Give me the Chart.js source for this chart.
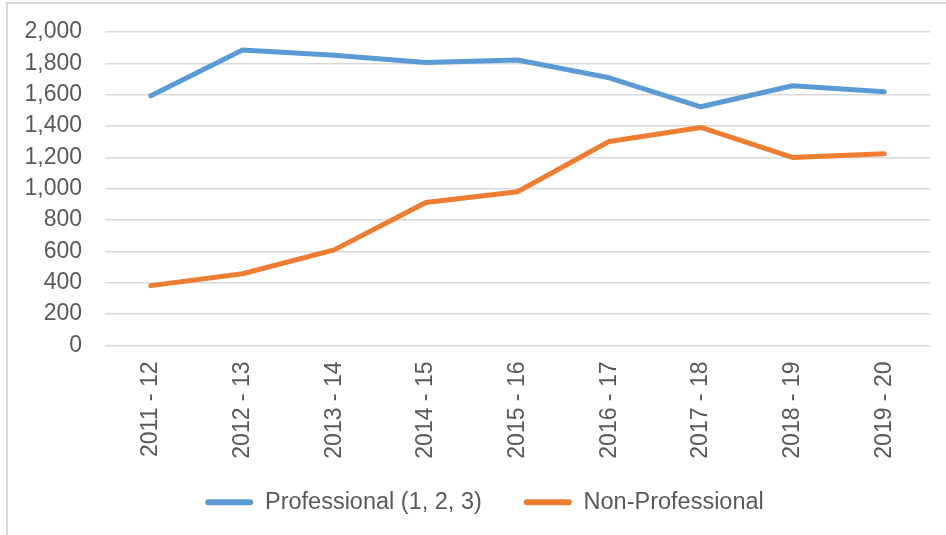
<!DOCTYPE html>
<html>
<head>
<meta charset="utf-8">
<script src="https://cdn.jsdelivr.net/npm/chart.js@4/dist/chart.umd.min.js"></script>
<style>
  html, body { margin: 0; padding: 0; background: #fff; overflow: hidden; }
  #wrap { position: relative; width: 946px; height: 535px; }
  #frame { position: absolute; left: 6px; top: 2px; width: 980px; height: 600px; border: 2px solid #d9d9d9; }
  #chart { position: absolute; left: 0; top: 0; }
</style>
</head>
<body>
<div id="wrap">
  <div id="frame"></div>
  <canvas id="chart" width="946" height="535"></canvas>
</div>
<script>
var years = ["2011 - 12", "2012 - 13", "2013 - 14", "2014 - 15", "2015 - 16", "2016 - 17", "2017 - 18", "2018 - 19", "2019 - 20"];
var professional = [1593, 1885, 1852, 1806, 1821, 1708, 1523, 1657, 1619];
var nonProfessional = [382, 458, 610, 912, 981, 1302, 1391, 1200, 1224];

var blue = "#5B9BD5";
var orange = "#ED7D31";
var textColor = "#595959";
var gridColor = "#D9D9D9";
var font = "'Liberation Sans', Arial, sans-serif";

// labels are allowed to spill outside their axis box (no clipping)
function noClip(scale) {
  scale._computeLabelArea = function() { return undefined; };
}

var ctx = document.getElementById("chart").getContext("2d");
var chart = new Chart(ctx, {
  type: "line",
  data: {
    labels: years,
    datasets: [
      {
        label: "Professional (1, 2, 3)",
        data: professional,
        borderColor: blue,
        backgroundColor: blue,
        borderWidth: 5,
        borderCapStyle: "round",
        borderJoinStyle: "round",
        pointRadius: 0,
        tension: 0
      },
      {
        label: "Non-Professional",
        data: nonProfessional,
        borderColor: orange,
        backgroundColor: orange,
        borderWidth: 5,
        borderCapStyle: "round",
        borderJoinStyle: "round",
        pointRadius: 0,
        tension: 0
      }
    ]
  },
  options: {
    responsive: false,
    animation: false,
    locale: "en-US",
    layout: { padding: { left: 39, right: 16, top: 32, bottom: 11 } },
    plugins: {
      tooltip: { enabled: false },
      legend: {
        position: "bottom",
        labels: {
          boxWidth: 48,
          boxHeight: 6,
          padding: 42,
          color: textColor,
          useBorderRadius: true,
          borderRadius: 3,
          font: { family: font, size: 23.5 },
          generateLabels: function(c) {
            var items = Chart.defaults.plugins.legend.labels.generateLabels(c);
            items.forEach(function(it) {
              it.lineWidth = 0;
              it.fillStyle = it.strokeStyle;
            });
            return items;
          }
        }
      }
    },
    scales: {
      x: {
        offset: true,
        grid: { display: false, drawTicks: false },
        border: { display: false },
        ticks: {
          minRotation: 90,
          maxRotation: 90,
          padding: 16,
          color: textColor,
          font: { family: font, size: 23 }
        },
        afterFit: function(scale) { scale.height = 103; noClip(scale); }
      },
      y: {
        min: 0,
        max: 2000,
        // invisible tick marks push the labels left without adding top padding
        grid: { color: gridColor, lineWidth: 1.5, drawTicks: true, tickLength: 23, tickColor: "rgba(0,0,0,0)" },
        border: { display: false },
        ticks: {
          stepSize: 200,
          padding: 0,
          color: textColor,
          font: { family: font, size: 23 }
        },
        afterFit: function(scale) { scale.width = 66; noClip(scale); }
      }
    }
  }
});
</script>
</body>
</html>
